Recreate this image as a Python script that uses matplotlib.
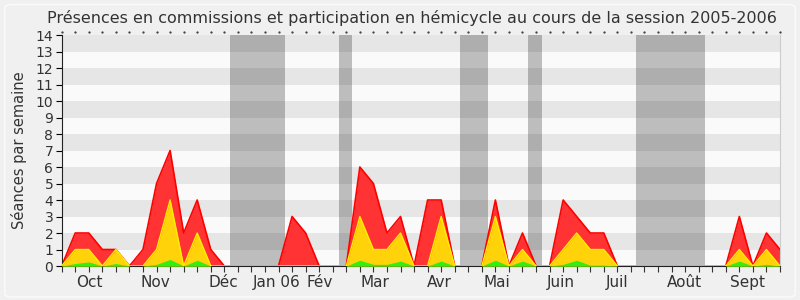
import matplotlib
matplotlib.use('Agg')
import matplotlib.pyplot as plt
from matplotlib.patches import FancyBboxPatch

# Weekly values, session 2005-2006 (54 weeks)
weeks = list(range(54))
total = [0, 2, 2, 1, 1, 0, 1, 5, 7, 2, 4, 1, 0, 0, 0, 0, 0, 3, 2, 0,
         0, 0, 6, 5, 2, 3, 0, 4, 4, 0, 0, 0, 4, 0, 2, 0, 0, 4, 3, 2,
         2, 0, 0, 0, 0, 0, 0, 0, 0, 0, 3, 0, 2, 1]
hemicycle = [0, 1, 1, 0, 1, 0, 0, 1, 4, 0, 2, 0, 0, 0, 0, 0, 0, 0, 0, 0,
             0, 0, 3, 1, 1, 2, 0, 0, 3, 0, 0, 0, 3, 0, 1, 0, 0, 1, 2, 1,
             1, 0, 0, 0, 0, 0, 0, 0, 0, 0, 1, 0, 1, 0]
interventions = [0, 0.15, 0.25, 0, 0.15, 0, 0, 0.1, 0.4, 0, 0.35, 0, 0, 0, 0, 0, 0, 0, 0, 0,
                 0, 0, 0.35, 0.1, 0.1, 0.3, 0, 0, 0.3, 0, 0, 0, 0.35, 0, 0.3, 0, 0, 0.1, 0.35, 0.05,
                 0.05, 0, 0, 0, 0, 0, 0, 0, 0, 0, 0.3, 0, 0.1, 0]

# Vacation periods (in week units)
vacances = [(12.42, 16.48), (20.44, 21.43), (29.4, 31.44), (34.41, 35.42), (42.36, 47.45)]

months = ['Oct', 'Nov', 'Déc', 'Jan 06', 'Fév', 'Mar', 'Avr', 'Mai', 'Juin', 'Juil', 'Août', 'Sept']
month_pos = [2.08, 6.89, 11.9, 15.83, 19.07, 23.14, 27.86, 32.08, 36.82, 40.95, 45.95, 50.57]

fig = plt.figure(figsize=(8, 3), dpi=100)
fig.patch.set_facecolor('#F0F0F0')
fig.patches.append(FancyBboxPatch((0.006, 0.01), 0.988, 0.975, boxstyle='round,pad=0,rounding_size=0.01',
                                  transform=fig.transFigure, facecolor='none', edgecolor='#FBFBFB', lw=1))

ax = fig.add_axes([0.0771, 0.1133, 0.8979, 0.77])
ax.set_facecolor('#FAFAFA')

for a, b in vacances:
    ax.axvspan(a, b, color='#BDBDBD', zorder=0.5, lw=0)
for k in range(1, 14, 2):
    ax.axhspan(k, k + 1, color='black', alpha=0.08, zorder=1, lw=0)

ax.fill_between(weeks, total, color='#FF3333', zorder=2, lw=0)
ax.plot(weeks, total, color='#FF0000', lw=1.2, zorder=2.1)
ax.fill_between(weeks, hemicycle, color='#FFD20A', zorder=3, lw=0)
ax.plot(weeks, hemicycle, color='#FFEE00', lw=1.0, zorder=3.1)
ax.fill_between(weeks, interventions, color='#33EE11', zorder=4, lw=0)

ax.set_xlim(0, 53)
ax.set_ylim(0, 14)
ax.set_yticks(range(15))
ax.tick_params(axis='y', labelsize=10, labelcolor='#333333', length=4, width=0.8, pad=2)

ax.set_xticks(weeks)
ax.set_xticklabels([])
ax.tick_params(axis='x', length=4, width=0.8, color='#333333')
for pos, m in zip(month_pos, months):
    ax.text(pos, -0.55, m, ha='center', va='top', fontsize=11, color='#333333')

ax.spines['top'].set_visible(False)
ax.spines['right'].set_color('#CCCCCC')
ax.spines['left'].set_color('#222222')
ax.spines['bottom'].set_color('#222222')

# small dots along the top edge, one per week
for w in weeks:
    ax.plot([w], [14.2], marker='.', ms=1.2, color='#333333', clip_on=False)

ax.set_ylabel('Séances par semaine', fontsize=10.5, color='#333333', labelpad=6)
fig.text(0.515, 0.94, 'Présences en commissions et participation en hémicycle au cours de la session 2005-2006',
         ha='center', va='center', fontsize=11.5, color='#333333')

fig.savefig('out.png', dpi=100, facecolor=fig.get_facecolor())
